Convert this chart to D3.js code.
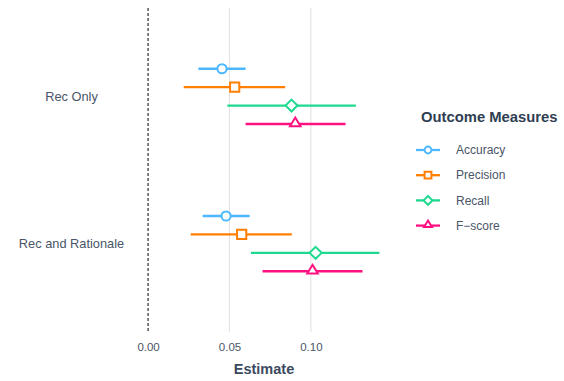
<!DOCTYPE html>
<html>
<head>
<meta charset="utf-8">
<script src="https://cdn.jsdelivr.net/npm/d3@7"></script>
<style>
  html, body { margin: 0; padding: 0; background: #ffffff; }
  svg { display: block; font-family: "Liberation Sans", Arial, sans-serif; }
</style>
</head>
<body>
<svg id="chart" width="564" height="381"></svg>
<script>
// Conditions shown on the y axis (top to bottom)
const conditions = ["Rec Only", "Rec and Rationale"];
// Outcome measures (legend order)
const measures = ["Accuracy", "Precision", "Recall", "F\u2212score"];
// Point estimates and 95% interval bounds, one array per condition, in measure order
const recOnlyEst   = [0.0454, 0.0532, 0.0881, 0.0904];
const recOnlyLow   = [0.0309, 0.0219, 0.0487, 0.0599];
const recOnlyHigh  = [0.0599, 0.0842, 0.1276, 0.1213];
const recRatEst    = [0.0479, 0.0575, 0.1029, 0.1010];
const recRatLow    = [0.0335, 0.0262, 0.0632, 0.0703];
const recRatHigh   = [0.0624, 0.0883, 0.1421, 0.1317];
// X axis ticks
const xTicks = [0.00, 0.05, 0.10];

const colors = ["#4db8ff", "#ff7f00", "#1fd990", "#ff1080"];
const shapes = ["circle", "square", "diamond", "triangle"];

const rows = [];
[[recOnlyEst, recOnlyLow, recOnlyHigh], [recRatEst, recRatLow, recRatHigh]].forEach((s, ci) => {
  measures.forEach((m, mi) => {
    rows.push({ cond: conditions[ci], measure: m, mi, est: s[0][mi], low: s[1][mi], high: s[2][mi] });
  });
});

const svg = d3.select("#chart");
const panel = { left: 136.5, right: 391, top: 8, bottom: 332 };

// x domain includes the zero reference line, with a 5% pad on each side
const xMin = 0, xMax = d3.max(rows, d => d.high);
const pad = (xMax - xMin) * 0.05;
const x = d3.scaleLinear().domain([xMin - pad, xMax + pad]).range([panel.left, panel.right]);

const y = d3.scalePoint().domain(conditions).range([panel.top, panel.bottom]).padding(0.6);
// dodge offsets within each condition
const dodge = d3.scalePoint().domain(measures).range([-0.1875, 0.1875]);
const step = y.step();
const yPos = d => y(d.cond) + dodge(d.measure) * step;

// vertical gridlines
svg.append("g").selectAll("line")
  .data(xTicks.filter(t => t !== 0))
  .join("line")
  .attr("x1", d => x(d)).attr("x2", d => x(d))
  .attr("y1", panel.top).attr("y2", panel.bottom)
  .attr("stroke", "#e3e3e3").attr("stroke-width", 1.1);

// zero reference line
svg.append("line")
  .attr("x1", x(0)).attr("x2", x(0))
  .attr("y1", panel.top).attr("y2", panel.bottom)
  .attr("stroke", "#000").attr("stroke-width", 1)
  .attr("stroke-dasharray", "3,2");

// x axis labels
const xAxis = d3.axisBottom(x).tickValues(xTicks).tickFormat(d3.format(".2f")).tickSize(0).tickPadding(11);
const gx = svg.append("g").attr("transform", `translate(0,${panel.bottom})`).call(xAxis);
gx.select(".domain").remove();
gx.selectAll("text").attr("fill", "#4a5568").attr("font-size", 11.5)
  .attr("font-family", "Liberation Sans, Arial, sans-serif");

// y axis labels, centred in the left margin
const yAxis = d3.axisLeft(y).tickSize(0).tickPadding(9);
const gy = svg.append("g").attr("transform", `translate(${panel.left},0)`).call(yAxis);
gy.select(".domain").remove();
gy.selectAll("text").attr("fill", "#4a5568").attr("font-size", 12.8)
  .attr("font-family", "Liberation Sans, Arial, sans-serif")
  .attr("text-anchor", "middle").attr("x", 71.5 - panel.left);

// x axis title
svg.append("text")
  .attr("x", 264).attr("y", 374)
  .attr("text-anchor", "middle")
  .attr("font-weight", "bold").attr("font-size", 14.5).attr("fill", "#3b4a5e")
  .text("Estimate");

// marker generator
function markerPath(shape, s) {
  if (shape === "circle") return d3.symbol(d3.symbolCircle, s * s * Math.PI)();
  if (shape === "square") return `M${-s},${-s}H${s}V${s}H${-s}Z`;
  if (shape === "diamond") { const r = s * 1.3; return `M0,${-r}L${r},0L0,${r}L${-r},0Z`; }
  const h = s * 1.9, w = s * 1.15;
  return `M0,${-h * 0.62}L${w},${h * 0.38}L${-w},${h * 0.38}Z`;
}

// interval lines
svg.append("g").selectAll("line")
  .data(rows)
  .join("line")
  .attr("x1", d => x(d.low)).attr("x2", d => x(d.high))
  .attr("y1", yPos).attr("y2", yPos)
  .attr("stroke", d => colors[d.mi]).attr("stroke-width", 2.3);

// point estimates
svg.append("g").selectAll("path")
  .data(rows)
  .join("path")
  .attr("transform", d => `translate(${x(d.est)},${yPos(d) - (d.mi === 3 ? 1 : 0)})`)
  .attr("d", d => markerPath(shapes[d.mi], 4.6))
  .attr("fill", "#fff")
  .attr("stroke", d => colors[d.mi]).attr("stroke-width", 2);

// legend
const lg = svg.append("g").attr("transform", "translate(416,0)");
lg.append("text").attr("x", 5).attr("y", 122)
  .attr("font-weight", "bold").attr("font-size", 14.8).attr("fill", "#2f3e52")
  .text("Outcome Measures");
const items = lg.selectAll("g.item").data(measures).join("g")
  .attr("class", "item")
  .attr("transform", (d, i) => `translate(0,${150 + i * 25.2})`);
items.append("line").attr("x1", 0).attr("x2", 24).attr("y1", 0).attr("y2", 0)
  .attr("stroke", (d, i) => colors[i]).attr("stroke-width", 2.3);
items.append("path")
  .attr("transform", (d, i) => `translate(12,${i === 3 ? -1 : 0})`)
  .attr("d", (d, i) => markerPath(shapes[i], 3.4))
  .attr("fill", "#fff").attr("stroke", (d, i) => colors[i]).attr("stroke-width", 2);
items.append("text").attr("x", 40).attr("y", 0).attr("dy", "0.35em")
  .attr("font-size", 12).attr("fill", "#4a5568")
  .text(d => d);
</script>
</body>
</html>
